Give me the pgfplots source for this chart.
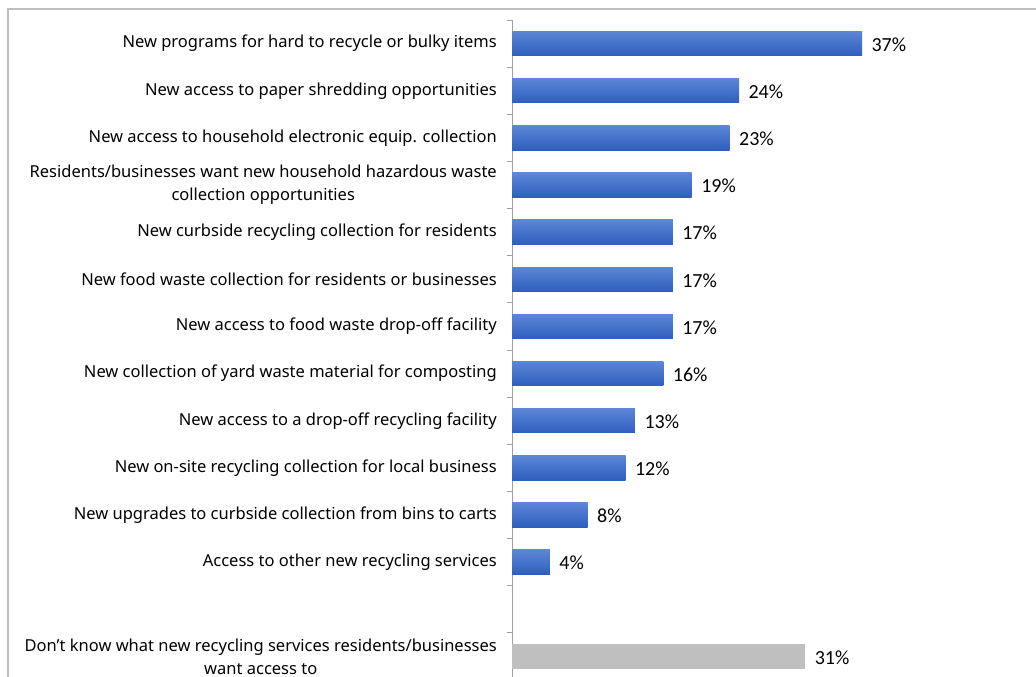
\documentclass[border=0pt]{standalone}
\usepackage{pgfplots}
\pgfplotsset{compat=1.18}
\usepackage{fontspec}
\setmainfont{Noto Sans}
\newfontfamily\calibri{Carlito}
\definecolor{bartop}{RGB}{92,134,214}
\definecolor{barbot}{RGB}{46,94,190}
\definecolor{graybar}{RGB}{191,191,191}
\definecolor{axgray}{RGB}{160,160,160}
\definecolor{framegray}{RGB}{190,190,190}
\pgfplotsset{bluebar/.style={draw=none, top color=bartop, bottom color=barbot}}
\begin{document}
\begin{tikzpicture}
\draw[framegray, line width=1.6pt] (8pt,-677pt) -- (8pt,-9pt) -- (1036pt,-9pt);
\begin{axis}[
  at={(512pt,-20pt)}, anchor=north west,
  scale only axis, width=473pt, height=660pt,
  xmin=0, xmax=50,
  ymin=-0.5, ymax=13.5, y dir=reverse,
  hide x axis,
  axis y line*=left,
  y axis line style={axgray, line width=1pt},
  ytick={0,...,13},
  yticklabels={
    New programs for hard to recycle or bulky items,
    New access to paper shredding opportunities,
    New access to household electronic equip. collection,
    {Residents/businesses want new household hazardous waste\\collection opportunities},
    New curbside recycling collection for residents,
    New food waste collection for residents or businesses,
    New access to food waste drop-off facility,
    New collection of yard waste material for composting,
    New access to a drop-off recycling facility,
    New on-site recycling collection for local business,
    New upgrades to curbside collection from bins to carts,
    Access to other new recycling services,
    {},
    {Don't know what new recycling services residents/businesses\\want access to}},
  major tick length=0pt,
  yticklabel style={align=center, inner sep=0pt, xshift=-15pt, font=\fontsize{16.5}{23}\selectfont},
  extra y ticks={-0.5,0.5,...,12.5},
  extra y tick labels={},
  extra y tick style={major tick length=5pt, tick align=outside, tick style={axgray, line width=1pt}},
  xbar, bar width=24.5pt, bar shift=0pt,
  nodes near coords={\pgfmathprintnumber{\pgfplotspointmeta}\%},
  nodes near coords align={horizontal},
  /pgf/number format/assume math mode=true,
  every node near coord/.append style={font=\calibri\fontsize{20}{22}\selectfont, text=black, xshift=6pt, yshift=-1pt},
  clip=false,
]
\addplot[bluebar] coordinates {(37,0)};
\addplot[bluebar] coordinates {(24,1)};
\addplot[bluebar] coordinates {(23,2)};
\addplot[bluebar] coordinates {(19,3)};
\addplot[bluebar] coordinates {(17,4)};
\addplot[bluebar] coordinates {(17,5)};
\addplot[bluebar] coordinates {(17,6)};
\addplot[bluebar] coordinates {(16,7)};
\addplot[bluebar] coordinates {(13,8)};
\addplot[bluebar] coordinates {(12,9)};
\addplot[bluebar] coordinates {(8,10)};
\addplot[bluebar] coordinates {(4,11)};
\addplot[draw=none, fill=graybar] coordinates {(31,13)};
\end{axis}
\pgfresetboundingbox
\useasboundingbox (0,0) rectangle (1036pt,-677pt);
\end{tikzpicture}
\end{document}
